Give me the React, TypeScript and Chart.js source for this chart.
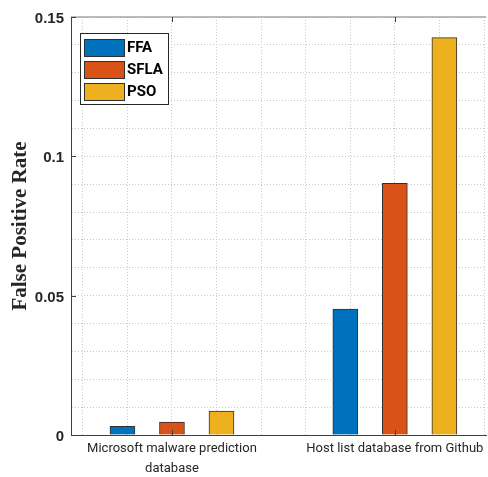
import React, { useEffect, useRef } from "react";
import { Chart, registerables } from "chart.js";

Chart.register(...registerables);

const categories: (string | string[])[] = [
  ["Microsoft malware prediction", "database"],
  "Host list database from Github",
];
const seriesNames = ["FFA", "SFLA", "PSO"];
const ffaValues = [0.0031, 0.0452];
const sflaValues = [0.0046, 0.0903];
const psoValues = [0.0086, 0.1426];
const seriesColors = ["#0072BD", "#D95319", "#EDB120"];
const yTickValues = [0, 0.05, 0.1, 0.15];
const yTickLabels = ["0", "0.05", "0.1", "0.15"];
const yTitle = "False Positive Rate";

const allSeries = [ffaValues, sflaValues, psoValues];
const GROUP_STEP = 0.2222;

const sans = "'Liberation Sans', Arial, sans-serif";
const cond = "Roboto, 'Liberation Sans', Arial, sans-serif";

export default function App() {
  const ref = useRef<HTMLCanvasElement | null>(null);

  useEffect(() => {
    if (!ref.current) return;

    const frame = {
      id: "frame",
      afterDatasetsDraw(chart: any) {
        const { ctx, chartArea } = chart;
        const { left, right, top, bottom } = chartArea;
        const xs = chart.scales.x;
        const ys = chart.scales.y;
        ctx.save();
        ctx.setLineDash([]);
        // top border
        ctx.strokeStyle = "#a6a6a6";
        ctx.lineWidth = 1.5;
        ctx.beginPath();
        ctx.moveTo(left, top);
        ctx.lineTo(right, top);
        ctx.stroke();
        // inward tick marks
        ctx.strokeStyle = "#404040";
        ctx.lineWidth = 1;
        categories.forEach((_, i) => {
          const px = Math.round(xs.getPixelForValue(i + 1)) + 0.5;
          ctx.beginPath();
          ctx.moveTo(px, bottom);
          ctx.lineTo(px, bottom - 5);
          ctx.moveTo(px, top);
          ctx.lineTo(px, top + 5);
          ctx.stroke();
        });
        yTickValues.forEach((v) => {
          const py = Math.round(ys.getPixelForValue(v)) + 0.5;
          ctx.beginPath();
          ctx.moveTo(left, py);
          ctx.lineTo(left + 5, py);
          ctx.stroke();
        });
        // legend
        const lx = 80, ly = 33, lw = 88, lh = 71;
        ctx.fillStyle = "#ffffff";
        ctx.fillRect(lx, ly, lw, lh);
        ctx.strokeStyle = "#262626";
        ctx.lineWidth = 1;
        ctx.strokeRect(lx + 0.5, ly + 0.5, lw, lh);
        chart.data.datasets.forEach((ds: any, i: number) => {
          const sy = ly + 6 + i * 22;
          ctx.fillStyle = ds.backgroundColor;
          ctx.fillRect(84, sy, 40, 17);
          ctx.strokeStyle = "#303030";
          ctx.strokeRect(84.5, sy + 0.5, 40, 17);
          ctx.fillStyle = "#000000";
          ctx.font = "bold 15px " + cond;
          ctx.textBaseline = "middle";
          ctx.textAlign = "left";
          ctx.fillText(ds.label, 127, sy + 9);
        });
        ctx.restore();
      },
    };

    const chart = new Chart(ref.current, {
      type: "bar",
      data: {
        datasets: seriesNames.map((name, s) => ({
          label: name,
          data: allSeries[s].map((v, i) => ({ x: i + 1 + (s - 1) * GROUP_STEP, y: v })),
          backgroundColor: seriesColors[s],
          borderColor: "#303030",
          borderWidth: 1,
          barThickness: 25,
          grouped: false,
        })),
      },
      plugins: [frame],
      options: {
        animation: false,
        responsive: false,
        maintainAspectRatio: false,
        layout: { padding: { top: 17, right: 0, left: 0, bottom: 0 } },
        plugins: { legend: { display: false }, tooltip: { enabled: false } },
        scales: {
          x: {
            type: "linear",
            offset: false,
            min: 0.547,
            max: 2.41,
            afterBuildTicks: (scale: any) => {
              const t = [];
              for (let i = 3; i <= 12; i++) t.push({ value: i / 5 });
              scale.ticks = t;
            },
            afterFit: (scale: any) => {
              scale.height = 42;
            },
            grid: {
              color: "#c8c8c8",
              lineWidth: 1,
              drawTicks: false,
              offset: false,
            },
            border: { display: true, color: "#404040", width: 1, dash: [1, 2] },
            ticks: {
              autoSkip: false,
              maxRotation: 0,
              padding: 4,
              color: "#262626",
              font: { family: cond, size: 13, lineHeight: 1.54 },
              callback: (v: any) => {
                const n = Number(v);
                if (n === 1) return categories[0] as any;
                if (n === 2) return categories[1] as any;
                return "";
              },
            },
          },
          y: {
            min: 0,
            max: 0.15,
            afterBuildTicks: (scale: any) => {
              const t = [];
              for (let i = 0; i <= 15; i++) t.push({ value: i / 100 });
              scale.ticks = t;
            },
            afterFit: (scale: any) => {
              scale.width = 71;
            },
            grid: {
              color: "#c8c8c8",
              lineWidth: 1,
              drawTicks: false,
            },
            border: { display: true, color: "#404040", width: 1, dash: [1, 2] },
            title: {
              display: true,
              text: yTitle,
              color: "#262626",
              font: { family: "'Liberation Serif', 'Times New Roman', serif", size: 21, weight: "bold" },
              padding: { top: 8, bottom: 0 },
            },
            ticks: {
              autoSkip: false,
              padding: 7,
              labelOffset: 2,
              color: "#262626",
              font: { family: sans, size: 15, weight: "bold" },
              callback: (v: any) => {
                const n = Number(v);
                const idx = yTickValues.findIndex((t) => Math.abs(t - n) < 1e-9);
                return idx >= 0 ? yTickLabels[idx] : "";
              },
            },
          },
        },
      },
    });

    return () => chart.destroy();
  }, []);

  return (
    <div style={{ position: "absolute", left: 0, top: 0, width: 488, height: 477, background: "#fff" }}>
      <canvas ref={ref} width={488} height={477} style={{ width: 488, height: 477 }} />
    </div>
  );
}
